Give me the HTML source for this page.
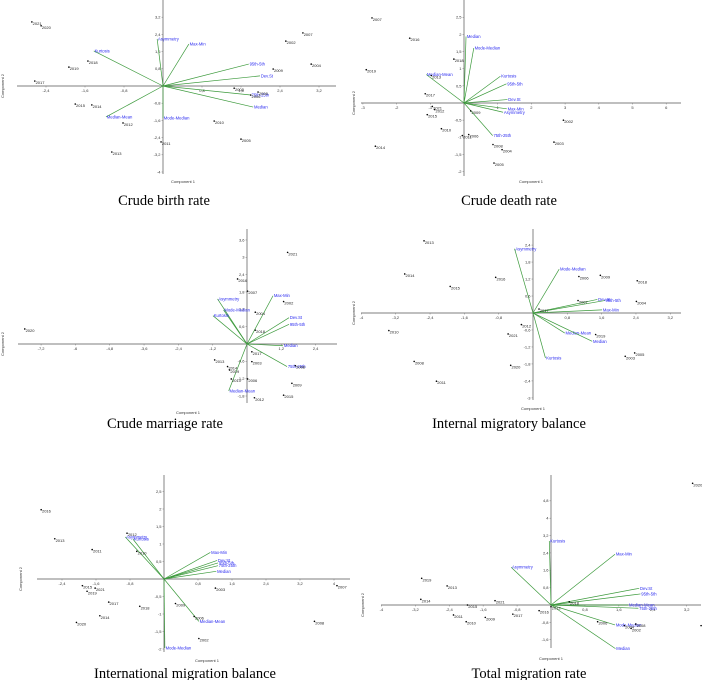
<!DOCTYPE html>
<html><head><meta charset="utf-8"><style>
html,body{margin:0;padding:0;background:#fff;}
svg{display:block;}
.tk{font-family:"Liberation Sans",sans-serif;font-size:4px;fill:#333;}
.pt{font-family:"Liberation Sans",sans-serif;font-size:4px;fill:#222;}
.vl{font-family:"Liberation Sans",sans-serif;font-size:4.2px;fill:#2a2af0;}
.ttl{font-family:"Liberation Serif",serif;font-size:14.5px;fill:#000;}
</style></head><body>
<svg id="chart" width="702" height="680" viewBox="0 0 702 680" xmlns="http://www.w3.org/2000/svg"></svg>
<script>
// Panel 1: Crude birth rate
const p1Years=["2021","2020","2017","2019","2018","2015","2014","2012","2013","2011","2010","2005","2003","2008","2006","2007","2002","2009","2004"];
const p1X=[-2.69,-2.50,-2.63,-1.93,-1.54,-1.80,-1.46,-0.82,-1.05,-0.04,1.05,1.60,1.46,1.95,1.80,2.87,2.52,2.26,3.04];
const p1Y=[2.98,2.80,0.23,0.88,1.16,-0.84,-0.88,-1.72,-3.07,-2.60,-1.63,-2.47,-0.10,-0.28,-0.42,2.47,2.09,0.79,1.02];
const p1Vars=["Asymmetry","Max-Min","Kurtosis","95th-5th","Dev.St","75th-25th","Median","Median-Mean","Mode-Median"];
const p1VX=[-0.12,0.53,-1.42,1.76,1.99,1.80,1.85,-1.17,0];
const p1VY=[2.19,1.95,1.63,1.02,0.47,-0.42,-0.98,-1.44,-1.49];
const p1XTicks=[-2.4,-1.6,-0.8,0.8,1.6,2.4,3.2];
const p1YTicks=[3.2,2.4,1.6,0.8,-0.8,-1.6,-2.4,-3.2,-4.0];
// Panel 2: Crude death rate
const p2Years=["2007","2016","2019","2018","2013","2017","2021","2012","2015","2009","2010","2006","2011","2014","2008","2004","2005","2002","2003"];
const p2X=[-2.73,-1.61,-2.90,-0.30,-0.97,-1.15,-0.94,-0.87,-1.09,0.20,-0.67,0.14,-0.05,-2.63,0.86,1.13,0.89,2.95,2.67];
const p2Y=[2.48,1.89,0.97,1.28,0.80,0.27,-0.10,-0.19,-0.34,-0.23,-0.75,-0.92,-0.95,-1.26,-1.21,-1.36,-1.75,-0.50,-1.14];
const p2Vars=["Median","Mode-Median","Median-Mean","Kurtosis","95th-5th","Dev.St","Max-Min","Asymmetry","75th-25th"];
const p2VX=[0.06,0.29,-1.12,1.08,1.26,1.29,1.27,1.16,0.85];
const p2VY=[1.94,1.60,0.83,0.78,0.56,0.10,-0.17,-0.27,-0.95];
const p2XTicks=[-3,-2,-1,1,2,3,4,5,6];
const p2YTicks=[2.5,2.0,1.5,1.0,0.5,-0.5,-1.0,-1.5,-2.0];
// Panel 3: Crude marriage rate
const p3Years=["2021","2016","2007","2002","2004","2018","2020","2017","2003","2013","2014","2019","2010","2006","2012","2015","2009","2008"];
const p3X=[1.42,-0.33,0.02,1.28,0.29,0.29,-7.77,0.17,0.17,-1.13,-0.68,-0.61,-0.55,0.02,0.26,1.28,1.57,1.69];
const p3Y=[3.17,2.25,1.83,1.47,1.10,0.48,0.52,-0.27,-0.61,-0.55,-0.78,-0.90,-1.21,-1.21,-1.86,-1.77,-1.36,-0.75];
const p3Vars=["Asymmetry","Mode-Median","Kurtosis","Max-Min","Dev.St","95th-5th","Median","75th-25th","Median-Mean"];
const p3VX=[-1.03,-0.82,-1.19,0.91,1.47,1.47,1.26,1.40,-0.64];
const p3VY=[1.56,1.18,0.98,1.67,0.91,0.68,-0.06,-0.78,-1.62];
const p3XTicks=[-7.2,-6.0,-4.8,-3.6,-2.4,-1.2,1.2,2.4];
const p3YTicks=[3.6,3.0,2.4,1.8,1.2,0.6,-0.6,-1.2,-1.8];
// Panel 4: Internal migratory balance
const p4Years=["2013","2014","2015","2016","2006","2009","2018","2007","2004","2017","2012","2010","2021","2019","2003","2005","2008","2020","2011"];
const p4X=[-2.54,-2.99,-1.93,-0.87,1.07,1.57,2.43,1.05,2.41,0.14,-0.27,-3.36,-0.58,1.46,2.15,2.37,-2.77,-0.52,-2.25];
const p4Y=[2.55,1.38,0.94,1.26,1.29,1.33,1.14,0.44,0.41,0.14,-0.41,-0.62,-0.74,-0.76,-1.53,-1.41,-1.71,-1.85,-2.41];
const p4Vars=["Asymmetry","Mode-Median","Dev.St","95th-5th","Max-Min","Median-Mean","Median","Kurtosis"];
const p4VX=[-0.43,0.61,1.50,1.67,1.61,0.74,1.38,0.29];
const p4VY=[2.27,1.55,0.48,0.44,0.11,-0.71,-1.00,-1.59];
const p4XTicks=[-4.0,-3.2,-2.4,-1.6,-0.8,0.8,1.6,2.4,3.2];
const p4YTicks=[2.4,1.8,1.2,0.6,-0.6,-1.2,-1.8,-2.4,-3.0];
// Panel 5: International migration balance
const p5Years=["2016","2013","2012","2011","2010","2015","2021","2019","2017","2018","2014","2020","2003","2009","2006","2002","2008","2007"];
const p5X=[-2.89,-2.57,-0.87,-1.69,-0.64,-1.92,-1.62,-1.81,-1.30,-0.57,-1.51,-2.06,1.21,0.27,0.71,0.82,3.54,4.07];
const p5Y=[1.98,1.15,1.31,0.84,0.79,-0.19,-0.26,-0.35,-0.66,-0.78,-1.05,-1.24,-0.26,-0.70,-1.07,-1.70,-1.21,-0.19];
const p5Vars=["Asymmetry","Kurtosis","Max-Min","Dev.St","95th-5th","75th-25th","Median","Median-Mean","Mode-Median"];
const p5VX=[-0.91,-0.73,1.09,1.25,1.27,1.27,1.23,0.82,0.02];
const p5VY=[1.20,1.14,0.76,0.53,0.46,0.38,0.22,-1.21,-1.97];
const p5XTicks=[-2.4,-1.6,-0.8,0.8,1.6,2.4,3.2,4.0];
const p5YTicks=[2.5,2.0,1.5,1.0,0.5,-0.5,-1.0,-1.5,-2.0];
// Panel 6: Total migration rate
const p6Years=["2020","2019","2013","2014","2021","2015","2011","2010","2009","2017","2016","2012","2018","2006","2004","2002","2008","2005"];
const p6X=[3.34,-3.05,-2.45,-3.07,-1.32,-1.97,-2.30,-2.00,-1.55,-0.90,-0.28,0,0.43,1.10,1.73,1.89,2.00,3.54];
const p6Y=[5.61,1.23,0.88,0.26,0.20,0,-0.46,-0.77,-0.57,-0.42,-0.26,-0.08,0.15,-0.77,-0.95,-1.08,-0.88,-0.95];
const p6Vars=["Kurtosis","Asymmetry","Max-Min","Dev.St","95th-5th","Median-Mean","75th-25th","Mode-Median","Median"];
const p6VX=[-0.04,-0.94,1.51,2.08,2.11,1.82,2.06,1.51,1.52];
const p6VY=[2.95,1.74,2.34,0.77,0.51,0,-0.15,-0.92,-2.01];
const p6XTicks=[-4.0,-3.2,-2.4,-1.6,-0.8,0.8,1.6,2.4,3.2];
const p6YTicks=[4.8,4.0,3.2,2.4,1.6,0.8,-0.8,-1.6];

const svg=document.getElementById('chart');
const NS='http://www.w3.org/2000/svg';
function mk(tag,attrs,parent){const e=document.createElementNS(NS,tag);for(const k in attrs)e.setAttribute(k,attrs[k]);parent.appendChild(e);return e;}
function fmt(v){return v.toFixed(Math.abs(v-Math.round(v))<1e-9&&Number.isInteger(v)?0:1).replace('.',',');}

function panel(id,cfg,years,X,Y,vars,VX,VY,xt,yt,title){
  const g=mk('g',{},svg);
  
  
  const sx=v=>cfg.ox+v*cfg.xs, sy=v=>cfg.oy-v*cfg.ys;
  const xa=mk('line',{x1:cfg.x0,x2:cfg.x1,y1:cfg.oy,y2:cfg.oy,stroke:'#999','stroke-width':1.3},g);
  
  
  const ya=mk('line',{x1:cfg.ox,x2:cfg.ox,y1:cfg.y0,y2:cfg.y1,stroke:'#666','stroke-width':0.8},g);
  
  
  xt.forEach(v=>{const x=sx(v);
    mk('line',{x1:x,x2:x,y1:cfg.oy,y2:cfg.oy+1.5,stroke:'#666','stroke-width':0.4},g);
    const t=mk('text',{x:x,y:cfg.oy+6,'text-anchor':'middle',class:'tk'},g);t.textContent=fmt(v);
    
    });
  yt.forEach(v=>{const y=sy(v);
    mk('line',{x1:cfg.ox-1.5,x2:cfg.ox,y1:y,y2:y,stroke:'#666','stroke-width':0.4},g);
    const t=mk('text',{x:cfg.ox-2.5,y:y+1.4,'text-anchor':'end',class:'tk'},g);t.textContent=fmt(v);
    
    });
  vars.forEach((n,i)=>{
    const l=mk('line',{x1:cfg.ox,y1:cfg.oy,x2:sx(VX[i]),y2:sy(VY[i]),stroke:'#3c9a3c','stroke-width':0.7},g);
    
    
    const t=mk('text',{x:sx(VX[i])+0.8,y:sy(VY[i])+1.5,class:'vl'},g);t.textContent=n;
    
    
  });
  years.forEach((n,i)=>{
    const c=mk('circle',{cx:sx(X[i]),cy:sy(Y[i]),r:0.8,fill:'#000'},g);
    
    
    const t=mk('text',{x:sx(X[i])+0.8,y:sy(Y[i])+3,class:'pt'},g);t.textContent=n;
    
    
  });
  const c1=mk('text',{x:cfg.cx,y:cfg.cy,'text-anchor':'middle',class:'tk'},g);c1.textContent='Component 1';
  
  
  const c2=mk('text',{x:0,y:0,'text-anchor':'middle',class:'tk',transform:'translate('+cfg.c2x+','+cfg.oy+') rotate(-90)'},g);c2.textContent='Component 2';
  
  
  const tt=mk('text',{x:cfg.tx,y:cfg.ty,'text-anchor':'middle',class:'ttl'},g);tt.textContent=title;
  
  
}
panel('crude-birth-rate-panel',{ox:163,oy:86,xs:48.75,ys:21.5,x0:17,x1:336,y0:0,y1:174,cx:183,cy:183,c2x:4,tx:164,ty:205},p1Years,p1X,p1Y,p1Vars,p1VX,p1VY,p1XTicks,p1YTicks,'Crude birth rate');
panel('crude-death-rate-panel',{ox:464,oy:103,xs:33.7,ys:34.3,x0:361,x1:681,y0:0,y1:176,cx:531,cy:183,c2x:355,tx:509,ty:205},p2Years,p2X,p2Y,p2Vars,p2VX,p2VY,p2XTicks,p2YTicks,'Crude death rate');
panel('crude-marriage-rate-panel',{ox:247,oy:344,xs:28.6,ys:28.9,x0:18,x1:337,y0:229,y1:403,cx:188,cy:414,c2x:4,tx:165,ty:428},p3Years,p3X,p3Y,p3Vars,p3VX,p3VY,p3XTicks,p3YTicks,'Crude marriage rate');
panel('internal-migratory-balance-panel',{ox:533,oy:313,xs:42.9,ys:28.3,x0:361,x1:681,y0:229,y1:400,cx:533,cy:410,c2x:355,tx:509,ty:428},p4Years,p4X,p4Y,p4Vars,p4VX,p4VY,p4XTicks,p4YTicks,'Internal migratory balance');
panel('international-migration-balance-panel',{ox:164,oy:579,xs:42.5,ys:35,x0:37,x1:350,y0:475,y1:652,cx:207,cy:662,c2x:22,tx:185,ty:678},p5Years,p5X,p5Y,p5Vars,p5VX,p5VY,p5XTicks,p5YTicks,'International migration balance');
panel('total-migration-rate-panel',{ox:551,oy:605,xs:42.4,ys:21.7,x0:381,x1:701,y0:475,y1:648,cx:551,cy:660,c2x:364,tx:529,ty:678},p6Years,p6X,p6Y,p6Vars,p6VX,p6VY,p6XTicks,p6YTicks,'Total migration rate');
</script>
</body></html>
